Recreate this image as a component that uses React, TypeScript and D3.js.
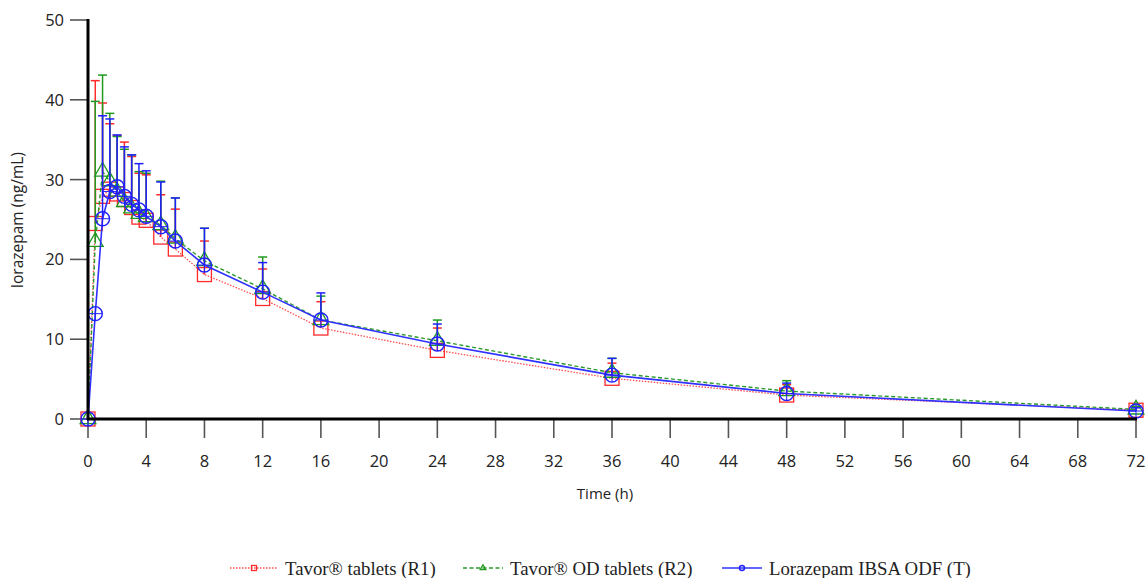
import React from "react";
import * as d3 from "d3";

const times = [0, 0.5, 1, 1.5, 2, 2.5, 3, 3.5, 4, 5, 6, 8, 12, 16, 24, 36, 48, 72];

const r1Mean = [0, 24.5, 27.9, 28.8, 28.2, 27.5, 26.5, 25.3, 24.9, 22.8, 21.3, 18.1, 15.1, 11.4, 8.6, 5.1, 3.0, 1.1];
const r1Upper = [null, 42.4, 39.6, 37.0, 35.5, 34.7, 32.9, 30.8, 30.6, 28.1, 26.3, 22.3, 18.8, 14.7, 11.4, 7.0, 4.3, 1.5];

const r2Mean = [0, 22.2, 31.0, 29.8, 28.5, 27.2, 26.4, 25.7, 25.3, 24.3, 22.6, 19.8, 16.3, 12.4, 9.8, 5.8, 3.5, 1.2];
const r2Upper = [null, 39.8, 43.1, 38.3, 35.4, 33.8, 33.1, 31.0, 30.8, 29.8, 27.7, 23.9, 20.3, 15.4, 12.4, 7.6, 4.8, 1.6];

const tMean = [0, 13.2, 25.1, 28.5, 29.1, 27.9, 26.9, 26.2, 25.4, 24.1, 22.3, 19.3, 15.9, 12.4, 9.4, 5.5, 3.2, 1.0];
const tUpper = [null, null, 38.0, 37.6, 35.6, 34.1, 33.1, 32.0, 31.1, 29.7, 27.7, 23.9, 19.6, 15.8, 11.9, 7.6, 4.5, 1.4];

const xTicks = d3.range(0, 73, 4);
const yTicks = [0, 10, 20, 30, 40, 50];

const seriesNames = ["Tavor® tablets (R1)", "Tavor® OD tablets (R2)", "Lorazepam IBSA ODF (T)"];

type Series = {
  name: string;
  mean: number[];
  upper: (number | null)[];
  color: string;
  lineColor: string;
  dash: string;
  width: number;
  marker: "square" | "triangle" | "circle";
};

const series: Series[] = [
  { name: seriesNames[0], mean: r1Mean, upper: r1Upper, color: "#ff2a2a", lineColor: "#ff4d4d", dash: "1.5,1.5", width: 1.3, marker: "square" },
  { name: seriesNames[1], mean: r2Mean, upper: r2Upper, color: "#1f9a1f", lineColor: "#2a9a2a", dash: "4,2.5", width: 1.4, marker: "triangle" },
  { name: seriesNames[2], mean: tMean, upper: tUpper, color: "#2020ff", lineColor: "#3030ff", dash: "", width: 1.6, marker: "circle" },
];

const W = 1147;
const H = 578;
const x = d3.scaleLinear().domain([0, 72]).range([88, 1136]);
const y = d3.scaleLinear().domain([0, 50]).range([419, 20]);

function Marker({ kind, cx, cy, size, color, plus }: { kind: string; cx: number; cy: number; size: number; color: string; plus: boolean }) {
  const h = size / 2;
  let shape: React.ReactNode = null;
  if (kind === "square") {
    shape = <rect x={cx - h} y={cy - h} width={size} height={size} fill="none" stroke={color} strokeWidth={1.3} />;
  } else if (kind === "triangle") {
    const tri = d3.symbol().type(d3.symbolTriangle).size(size * size * 0.55)();
    shape = <path d={tri || ""} transform={`translate(${cx},${cy})`} fill="none" stroke={color} strokeWidth={1.3} />;
  } else {
    shape = <circle cx={cx} cy={cy} r={h} fill="none" stroke={color} strokeWidth={1.4} />;
  }
  return (
    <g>
      {shape}
      {plus && (
        <g stroke={color} strokeWidth={1}>
          <line x1={cx - h} x2={cx + h} y1={cy} y2={cy} />
          <line x1={cx} x2={cx} y1={cy - h} y2={cy + h} />
        </g>
      )}
    </g>
  );
}

export default function App() {
  const line = d3
    .line<number>()
    .x((_, i) => x(times[i]))
    .y((d) => y(d));

  const tickFont = "'Open Sans', 'Noto Sans', sans-serif";
  const legendX = [230, 463, 722];
  const legendLen = [48, 40, 40];

  return (
    <svg width={W} height={H} style={{ position: "absolute", left: 0, top: 0, background: "#fff" }}>
      <rect width={W} height={H} fill="#fff" />

      {/* y ticks */}
      {yTicks.map((t) => (
        <g key={"y" + t}>
          <line x1={70} x2={88} y1={y(t)} y2={y(t)} stroke="#555" strokeWidth={1.6} />
          <text x={64} y={y(t)} dy="0.36em" textAnchor="end" fontFamily={tickFont} fontSize={16.5} fill="#222">
            {t}
          </text>
        </g>
      ))}

      {/* x ticks */}
      {xTicks.map((t) => (
        <g key={"x" + t}>
          <line x1={x(t)} x2={x(t)} y1={419} y2={438} stroke="#555" strokeWidth={1.6} />
          <text x={x(t)} y={467} textAnchor="middle" fontFamily={tickFont} fontSize={16.5} fill="#222">
            {t}
          </text>
        </g>
      ))}

      {/* axis titles */}
      <text x={605} y={499} textAnchor="middle" fontFamily={tickFont} fontSize={15} fill="#222">
        Time (h)
      </text>
      <text
        transform={`translate(23,${220}) rotate(-90)`}
        textAnchor="middle"
        fontFamily={tickFont}
        fontSize={15.5}
        fill="#222"
      >
        lorazepam (ng/mL)
      </text>

      {/* series */}
      {series.map((s) => (
        <g key={s.name}>
          <path
            d={line(s.mean) || ""}
            fill="none"
            stroke={s.lineColor}
            strokeWidth={s.width}
            strokeDasharray={s.dash || undefined}
          />
          {s.upper.map((u, i) =>
            u == null ? null : (
              <g key={i} stroke={s.color} strokeWidth={1.5}>
                <line x1={x(times[i])} x2={x(times[i])} y1={y(s.mean[i])} y2={y(u)} />
                <line x1={x(times[i]) - 4.5} x2={x(times[i]) + 4.5} y1={y(u)} y2={y(u)} />
              </g>
            )
          )}
          {s.mean.map((m, i) => (
            <Marker key={i} kind={s.marker} cx={x(times[i])} cy={y(m)} size={14} color={s.color} plus={s.marker === "circle"} />
          ))}
        </g>
      ))}

      {/* axes */}
      <line x1={88} x2={88} y1={19} y2={420} stroke="#000" strokeWidth={3} />
      <line x1={87} x2={1137} y1={419} y2={419} stroke="#000" strokeWidth={3} />

      {/* legend */}
      {series.map((s, i) => {
        const lx = legendX[i];
        const len = legendLen[i];
        return (
          <g key={"lg" + i}>
            <line
              x1={lx}
              x2={lx + len}
              y1={568}
              y2={568}
              stroke={s.lineColor}
              strokeWidth={s.width}
              strokeDasharray={s.dash || undefined}
            />
            <Marker kind={s.marker} cx={lx + len / 2} cy={568} size={5} color={s.color} plus={false} />
            <text x={lx + len + 7} y={575} fontFamily="'Liberation Serif', 'Times New Roman', serif" fontSize={18.8} fill="#222">
              {s.name}
            </text>
          </g>
        );
      })}
    </svg>
  );
}
